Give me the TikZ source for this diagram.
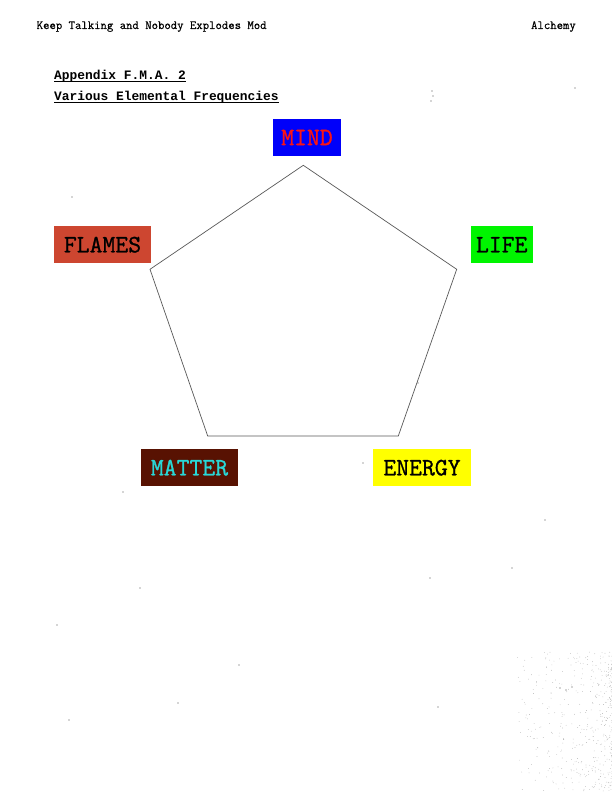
\documentclass[tikz,border=0pt]{standalone}
\usepackage{fontspec}
\newfontfamily\lmmono[FakeBold=0.5]{Latin Modern Mono}
\newfontfamily\lblfont[FakeBold=1.0]{Latin Modern Mono}
\newfontfamily\titlefont{Liberation Mono}
\definecolor{flamesbg}{RGB}{205,70,48}
\definecolor{matterbg}{RGB}{88,18,2}
\definecolor{mattertx}{RGB}{40,215,215}
\definecolor{mindbg}{RGB}{0,0,250}
\definecolor{mindtx}{RGB}{250,20,20}
\definecolor{lifebg}{RGB}{0,245,0}
\definecolor{energybg}{RGB}{255,255,0}
\tikzset{
  elem/.style={inner sep=0pt, minimum height=37pt, font=\lblfont\fontsize{25}{25}\selectfont, anchor=center},
  edge/.style={draw=black!65, line width=0.7pt, line join=miter},
  hdr/.style={font=\lmmono\fontsize{12.4}{12.4}\selectfont, inner sep=0pt, anchor=base west},
  ttl/.style={font=\titlefont\bfseries\fontsize{12.9}{12.9}\selectfont, inner sep=0pt, anchor=base west},
  speck/.style={fill=black!70}
}
\begin{document}
\begin{tikzpicture}[x=1pt,y=-1pt]
\useasboundingbox[fill=white] (0,0) rectangle (612,792);
% header
\node[hdr] (h1) at (36.5,29) {Keep Talking and Nobody Explodes Mod};
\node[hdr, anchor=base east] (h2) at (576,29) {Alchemy};
% titles
\node[ttl] (t1) at (54,79) {Appendix F.M.A. 2};
\node[ttl] (t2) at (54,100) {Various Elemental Frequencies};
\draw[line width=1pt] ([yshift=-2pt]t1.base west) -- ([yshift=-2pt]t1.base east);
\draw[line width=1pt] ([yshift=-2pt]t2.base west) -- ([yshift=-2pt]t2.base east);
% pentagon
\coordinate (ptop) at (303.3,165.3);
\coordinate (pright) at (456.7,269.3);
\coordinate (pbr) at (398.3,436);
\coordinate (pbl) at (207.7,436);
\coordinate (pleft) at (150,269.3);
\draw[edge] (ptop) -- (pright) -- (pbr) -- (pbl) -- (pleft) -- cycle;
% element labels
\node[elem, fill=mindbg, text=mindtx, minimum width=68pt] (mind) at (307,137.5) {MIND};
\node[elem, fill=lifebg, text=black, minimum width=62pt] (life) at (501.7,244.7) {LIFE};
\node[elem, fill=flamesbg, text=black, minimum width=97pt] (flames) at (102.5,244.7) {FLAMES};
\node[elem, fill=matterbg, text=mattertx, minimum width=97.6pt] (matter) at (189.5,467.7) {MATTER};
\node[elem, fill=energybg, text=black, minimum width=97.4pt] (energy) at (422,467.7) {ENERGY};
% specks
\foreach \sx/\sy in {72/197, 432/91, 433/96, 431/101, 575/88, 363/463, 123/492, 545/520, 512/568, 430/578, 140/588, 57/625, 239/665, 178/703, 438/707, 69/720, 418/383, 560/688, 566/690, 572/687}
  \fill[speck] (\sx,\sy) circle (0.7pt);
\pgfmathsetseed{7}
\foreach \i in {1,...,450} {
  \pgfmathsetmacro{\rx}{rnd}
  \pgfmathsetmacro{\ry}{rnd}
  \pgfmathsetmacro{\px}{612 - 95*\rx*\rx}
  \pgfmathsetmacro{\py}{792 - 140*\ry}
  \fill[black!35] (\px,\py) circle (0.35pt);
}
\end{tikzpicture}
\end{document}
